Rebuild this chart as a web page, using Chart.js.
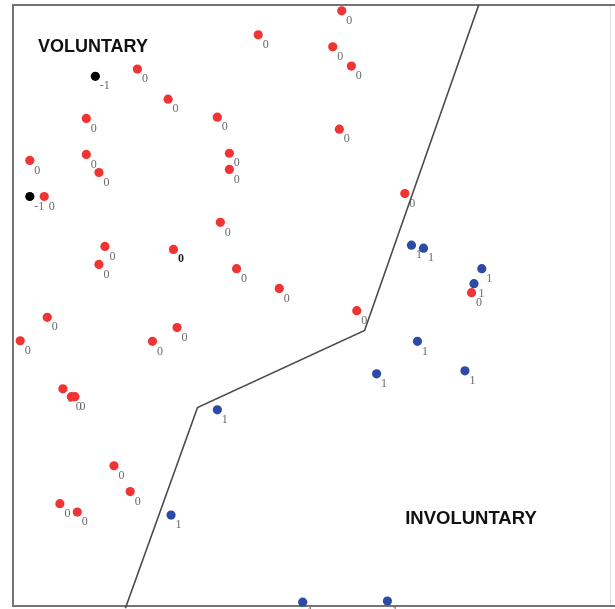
<!DOCTYPE html>
<html>
<head>
<meta charset="utf-8">
<script src="https://cdn.jsdelivr.net/npm/chart.js@4/dist/chart.umd.min.js"></script>
<style>
  html, body { margin: 0; padding: 0; background: #fff; }
  #wrap { width: 615px; height: 609px; }
</style>
</head>
<body>
<div id="wrap"><canvas id="c" width="615" height="609"></canvas></div>
<script>
// Observations in the two-feature plane (0-100 on each axis) with their class
const pointX = [
  54.7, 40.8, 53.2, 56.3, 20.7, 25.8, 34.0, 12.2, 54.3, 12.2,
  36.0, 2.8, 36.0, 14.3, 5.2, 65.2, 34.5, 15.3, 26.7, 14.3,
  37.2, 44.3, 5.7, 57.2, 27.3, 1.2, 23.2, 8.3, 9.7, 10.3,
  16.8, 19.5, 7.8, 10.7, 76.3,
  13.7, 2.8,
  66.3, 68.3, 78.0, 76.7, 67.3, 60.5, 75.2, 34.0, 26.3, 48.2, 62.3
];
const pointY = [
  99.2, 95.2, 93.2, 90.0, 89.5, 84.5, 81.5, 81.3, 79.5, 75.3,
  75.5, 74.3, 72.8, 72.3, 68.3, 68.8, 64.0, 60.0, 59.5, 57.0,
  56.3, 53.0, 48.2, 49.3, 46.5, 44.3, 44.2, 36.3, 35.0, 35.0,
  23.5, 19.2, 17.2, 15.8, 52.3,
  88.3, 68.3,
  60.2, 59.7, 56.3, 53.8, 44.2, 38.8, 39.3, 32.8, 15.3, 0.8, 1.0
];
const pointClass = [
  0, 0, 0, 0, 0, 0, 0, 0, 0, 0,
  0, 0, 0, 0, 0, 0, 0, 0, 0, 0,
  0, 0, 0, 0, 0, 0, 0, 0, 0, 0,
  0, 0, 0, 0, 0,
  -1, -1,
  1, 1, 1, 1, 1, 1, 1, 1, 1, 1, 1
];
// index of the observation whose class label is printed in bold
const emphasizedLabels = [18];

// Decision boundary vertices
const boundaryX = [77.5, 58.5, 30.7, 18.7];
const boundaryY = [100.2, 46.0, 33.2, -0.2];

// Region names
const regionNames = ['VOLUNTARY', 'INVOLUNTARY'];
const regionX = [13.3, 76.2];
const regionY = [93.2, 14.7];

const classColors = { '0': '#f03434', '-1': '#000000', '1': '#2c4aa6' };
const classOrder = [0, -1, 1];

const datasets = classOrder.map(cls => {
  const pts = [];
  pointClass.forEach((c, i) => {
    if (c === cls) pts.push({ x: pointX[i], y: pointY[i], idx: i });
  });
  return {
    type: 'scatter',
    label: String(cls),
    data: pts,
    backgroundColor: classColors[String(cls)],
    borderWidth: 0,
    pointRadius: 4.6,
    pointHoverRadius: 4.6,
    order: 1
  };
});

datasets.push({
  type: 'line',
  label: 'boundary',
  data: boundaryX.map((x, i) => ({ x: x, y: boundaryY[i] })),
  borderColor: '#4a4a4a',
  borderWidth: 1.6,
  pointRadius: 0,
  fill: false,
  tension: 0,
  order: 2
});

// Frame and class labels go under the markers; region names on top
const annotate = {
  id: 'annotate',
  beforeDatasetsDraw(chart) {
    const { ctx, chartArea: a } = chart;
    const xs = chart.scales.x, ys = chart.scales.y;
    const left = a.left, top = a.top - 1, bottom = a.bottom - 1;
    ctx.save();
    ctx.lineCap = 'butt';
    ctx.strokeStyle = '#e2e2e2';
    ctx.lineWidth = 1;
    ctx.beginPath();
    ctx.moveTo(a.right - 3.5, top);
    ctx.lineTo(a.right - 3.5, bottom);
    ctx.stroke();
    ctx.strokeStyle = '#747474';
    ctx.lineWidth = 2;
    ctx.beginPath();
    ctx.moveTo(a.right + 1, top);
    ctx.lineTo(left, top);
    ctx.lineTo(left, bottom);
    ctx.lineTo(a.right + 1, bottom);
    ctx.stroke();

    ctx.textAlign = 'left';
    ctx.textBaseline = 'middle';
    pointClass.forEach((c, i) => {
      const px = xs.getPixelForValue(pointX[i]);
      const py = ys.getPixelForValue(pointY[i]);
      const bold = emphasizedLabels.includes(i);
      ctx.font = (bold ? 'bold ' : '') + '12px "Liberation Serif", "DejaVu Serif", serif';
      ctx.fillStyle = bold ? '#1e1e1e' : '#6a6a6a';
      ctx.fillText(String(c), px + 4.5, py + 10);
    });
    ctx.restore();
  },
  afterDatasetsDraw(chart) {
    const { ctx } = chart;
    const xs = chart.scales.x, ys = chart.scales.y;
    ctx.save();
    ctx.fillStyle = '#111111';
    ctx.textAlign = 'center';
    ctx.textBaseline = 'middle';
    regionNames.forEach((t, i) => {
      ctx.font = 'bold ' + (i === 0 ? 18 : 18.5) + 'px "Liberation Sans", Arial, sans-serif';
      ctx.fillText(t, xs.getPixelForValue(regionX[i]), ys.getPixelForValue(regionY[i]));
    });
    ctx.restore();
  }
};

new Chart(document.getElementById('c'), {
  data: { datasets: datasets },
  options: {
    responsive: false,
    animation: false,
    clip: false,
    layout: { autoPadding: false, padding: { left: 13, right: 1, top: 6, bottom: 2 } },
    plugins: { legend: { display: false }, tooltip: { enabled: false } },
    scales: {
      x: { type: 'linear', min: 0, max: 100, display: false },
      y: { type: 'linear', min: 0, max: 100, display: false }
    }
  },
  plugins: [annotate]
});
</script>
</body>
</html>
